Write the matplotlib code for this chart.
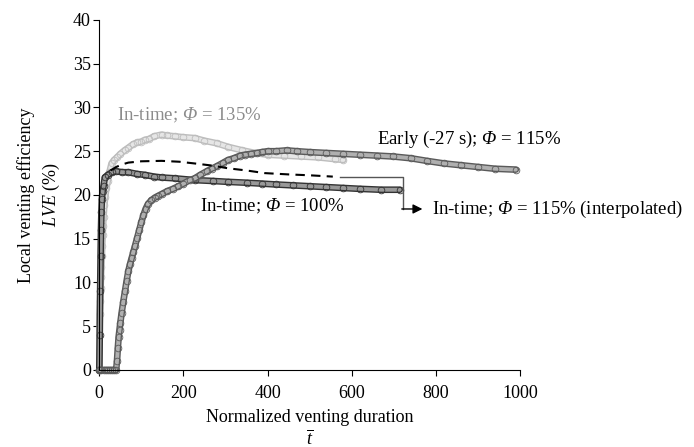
import matplotlib
matplotlib.use('Agg')
import matplotlib.pyplot as plt
import matplotlib.patheffects as pe

plt.rcParams['font.family'] = ['Liberation Serif', 'DejaVu Serif']
plt.rcParams['mathtext.fontset'] = 'custom'
plt.rcParams['mathtext.rm'] = 'Liberation Serif'
plt.rcParams['mathtext.it'] = 'Liberation Serif:italic'
# italic greek capitals: mathtext keeps \mathit greek upright, so use sf slot
plt.rcParams['mathtext.sf'] = 'Liberation Serif:italic'

# In-time, phi = 135 % (light grey)
t_135 = [0, 1, 2, 3, 4, 5, 6, 7, 8, 9, 10, 12, 14, 17, 20, 24, 29, 35, 42,
         50, 60, 69, 80, 90, 100, 108, 118, 130, 148, 160, 180, 200, 227,
         250, 280, 306, 340, 370, 400, 440, 480, 520, 560, 580]
lve_135 = [0, 6.4, 7.9, 9.4, 10.6, 11.8, 13.0, 14.2, 15.4, 16.5, 17.5, 18.8,
           19.8, 20.8, 21.6, 22.6, 23.6, 24.0, 24.3, 24.7, 25.1, 25.4, 25.8,
           26.0, 26.1, 26.3, 26.4, 26.7, 26.9, 26.8, 26.7, 26.6, 26.5, 26.2,
           25.9, 25.5, 25.1, 24.8, 24.6, 24.5, 24.4, 24.3, 24.1, 24.0]

# In-time, phi = 100 % (dark)
t_100 = [0, 1, 2, 3, 4, 5, 6, 8, 10, 13, 20, 30, 40, 55, 69, 90, 108, 130,
         148, 180, 227, 270, 306, 350, 386, 420, 460, 500, 540, 580, 620,
         670, 714]
lve_100 = [0, 4.0, 9.0, 13.0, 16.0, 18.0, 19.5, 20.5, 21.0, 22.0, 22.3,
           22.6, 22.7, 22.6, 22.6, 22.4, 22.3, 22.1, 22.0, 21.9, 21.7, 21.6,
           21.5, 21.4, 21.3, 21.2, 21.1, 21.0, 20.9, 20.8, 20.7, 20.6, 20.6]

# Early (-27 s), phi = 115 % (mid grey)
t_early = [0, 5, 10, 15, 20, 25, 30, 35, 40, 42, 44, 46, 48, 50, 53, 57, 61,
           65, 69, 73, 77, 81, 85, 90, 95, 100, 105, 110, 116, 124, 132, 140,
           148, 160, 175, 188, 200, 215, 227, 240, 255, 267, 280, 295, 306,
           320, 335, 346, 360, 375, 386, 400, 420, 445, 470, 500, 540, 580,
           620, 660, 698, 740, 778, 820, 860, 900, 940, 990]
lve_early = [0, 0, 0, 0, 0, 0, 0, 0, 0, 1.0, 2.5, 3.8, 4.6, 5.4, 6.5, 7.8,
             9.0, 10.2, 11.3, 12.1, 12.8, 13.5, 14.2, 15.1, 16.0, 16.9, 17.7,
             18.4, 19.0, 19.4, 19.7, 19.9, 20.1, 20.4, 20.7, 21.0, 21.3, 21.7,
             21.9, 22.3, 22.7, 23.0, 23.3, 23.7, 24.0, 24.2, 24.5, 24.6, 24.7,
             24.8, 24.9, 25.0, 25.0, 25.1, 25.0, 24.9, 24.8, 24.7, 24.6, 24.5,
             24.4, 24.2, 23.9, 23.6, 23.4, 23.2, 23.0, 22.9]

# In-time, phi = 115 % (interpolated, dashed)
t_interp = [27, 40, 55, 69, 100, 148, 190, 227, 270, 306, 350, 393, 450, 500,
            555]
lve_interp = [22.8, 23.2, 23.5, 23.7, 23.85, 23.9, 23.8, 23.6, 23.35, 23.05,
              22.8, 22.5, 22.35, 22.25, 22.1]

fig = plt.figure(figsize=(6.94, 4.47), dpi=100)
ax = fig.add_axes([0.1431, 0.1723, 0.6062, 0.783])


def chain(t, v, edge, inner):
    # dense chain of open circles drawn as a band plus the read points
    ax.plot(t, v, color=edge, lw=4.4, solid_capstyle='round', clip_on=False,
            path_effects=[pe.Stroke(linewidth=4.8, foreground=edge),
                          pe.Stroke(linewidth=2.8, foreground=inner)])
    ax.plot(t, v, ls='none', marker='o', ms=4.8, mfc='none', mec=edge,
            mew=0.6, clip_on=False)


chain(t_135, lve_135, '#bdbdbd', '#e6e6e6')
chain(t_100, lve_100, '#333333', '#999999')
chain(t_early, lve_early, '#5a5a5a', '#b0b0b0')
ax.plot(t_interp, lve_interp, color='black', lw=1.5, ls=(0, (4.5, 3)))

# callout for the interpolated curve
ax.plot([572, 721, 721], [22.1, 22.1, 18.4], color='#555555', lw=1.0)
ax.annotate('', xy=(768, 18.4), xytext=(719, 18.4),
            arrowprops=dict(arrowstyle='-|>', color='black', lw=1.0,
                            mutation_scale=14, shrinkA=0, shrinkB=0))

fs = 13
phi = r'$\mathsf{\Phi}$'
ax.text(42, 29.1, 'In-time; ' + phi + ' = 135%', color='#8c8c8c',
        fontsize=13.5, va='center')
ax.text(660, 26.3, 'Early (-27 s); ' + phi + ' = 115%', fontsize=13.5,
        va='center')
ax.text(239, 18.7, 'In-time; ' + phi + ' = 100%', fontsize=13.5,
        va='center')
ax.text(790, 18.4, 'In-time; ' + phi + ' = 115% (interpolated)',
        fontsize=13.5, va='center', clip_on=False)

ax.set_xlim(0, 1000)
ax.set_ylim(0, 40)
ax.set_xticks([0, 200, 400, 600, 800, 1000])
ax.set_yticks(range(0, 41, 5))
ax.spines['top'].set_visible(False)
ax.spines['right'].set_visible(False)
ax.tick_params(axis='both', labelsize=fs, direction='out', length=4,
               width=0.8)
ax.tick_params(axis='x', pad=7)
ax.tick_params(axis='y', pad=2)

ax.set_xlabel('Normalized venting duration', fontsize=fs, labelpad=5)
ax.text(0.5, -0.212, r'$\overline{t}$', transform=ax.transAxes,
        fontsize=fs, ha='center', va='baseline')
ax.set_ylabel('Local venting efficiency\n$LVE$ (%)', fontsize=fs,
              labelpad=8, linespacing=1.35)

fig.savefig('out.png', dpi=100)
